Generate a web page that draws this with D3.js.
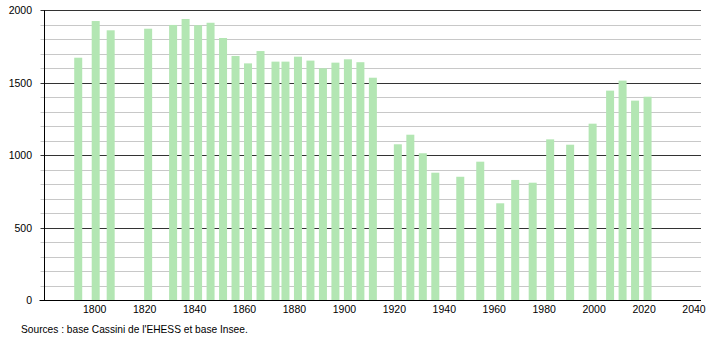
<!DOCTYPE html>
<html>
<head>
<meta charset="utf-8">
<script src="https://cdn.jsdelivr.net/npm/d3@7"></script>
<style>
  body { margin: 0; background: #fff; }
  text { font-family: "Liberation Sans", Arial, sans-serif; }
</style>
</head>
<body>
<div id="chart"></div>
<script>
'use strict';

// census years and population
const years = [1793, 1800, 1806, 1821, 1831, 1836, 1841, 1846, 1851, 1856,
  1861, 1866, 1872, 1876, 1881, 1886, 1891, 1896, 1901, 1906, 1911,
  1921, 1926, 1931, 1936, 1946, 1954, 1962, 1968, 1975, 1982, 1990,
  1999, 2006, 2011, 2016, 2021];
const population = [1673, 1926, 1862, 1873, 1899, 1940, 1897, 1914, 1809, 1685,
  1634, 1719, 1646, 1646, 1680, 1653, 1600, 1639, 1662, 1642, 1535,
  1076, 1142, 1014, 880, 852, 956, 669, 830, 811, 1110, 1073,
  1218, 1446, 1515, 1377, 1404];
const xTicks = [1800, 1820, 1840, 1860, 1880, 1900, 1920, 1940, 1960, 1980,
  2000, 2020, 2040];
const yMajor = [0, 500, 1000, 1500, 2000];
const yMinor = d3.range(100, 2000, 100).filter(v => v % 500 !== 0);
const source = 'Sources : base Cassini de l\'EHESS et base Insee.';

const width = 710;
const height = 340;

const svg = d3.select('#chart')
  .append('svg')
  .attr('width', width)
  .attr('height', height);

const x = d3.scaleLinear().domain([1800, 2040]).range([94.7, 694]);
const y = d3.scaleLinear().domain([0, 2000]).range([300.3, 10.3]);

const left = 44.5;
const right = 701;

// minor grid
svg.append('g')
  .selectAll('line')
  .data(yMinor)
  .join('line')
  .attr('x1', left - 4)
  .attr('x2', right)
  .attr('y1', d => Math.round(y(d)) + 0.5)
  .attr('y2', d => Math.round(y(d)) + 0.5)
  .attr('stroke', '#c8c8c8')
  .attr('stroke-width', 1);

// major grid
svg.append('g')
  .selectAll('line')
  .data(yMajor.slice(1))
  .join('line')
  .attr('x1', left - 4)
  .attr('x2', right)
  .attr('y1', d => Math.round(y(d)) + 0.5)
  .attr('y2', d => Math.round(y(d)) + 0.5)
  .attr('stroke', '#333')
  .attr('stroke-width', 1);

// bars, over the grid
svg.append('g')
  .selectAll('rect')
  .data(years)
  .join('rect')
  .attr('x', d => x(d) - 3)
  .attr('width', 8)
  .attr('y', (d, i) => y(population[i]))
  .attr('height', (d, i) => y(0) - y(population[i]))
  .attr('fill', '#b3e6b3');

// axes lines
svg.append('line')
  .attr('x1', left).attr('x2', left)
  .attr('y1', y(2000)).attr('y2', y(0) + 0.5)
  .attr('stroke', '#000');
svg.append('line')
  .attr('x1', left - 5).attr('x2', right)
  .attr('y1', Math.round(y(0)) + 0.5).attr('y2', Math.round(y(0)) + 0.5)
  .attr('stroke', '#000');

// y labels
svg.append('g')
  .selectAll('text')
  .data(yMajor)
  .join('text')
  .attr('x', 32)
  .attr('y', d => y(d) + 4)
  .attr('text-anchor', 'end')
  .attr('font-size', '10.5px')
  .attr('fill', '#000')
  .text(d => d);

// x labels
svg.append('g')
  .selectAll('text')
  .data(xTicks)
  .join('text')
  .attr('x', d => x(d))
  .attr('y', 313)
  .attr('text-anchor', 'middle')
  .attr('font-size', '10.5px')
  .attr('fill', '#000')
  .text(d => d);

svg.append('text')
  .attr('x', 21)
  .attr('y', 333)
  .attr('font-size', '10.2px')
  .attr('fill', '#000')
  .text(source);
</script>
</body>
</html>
